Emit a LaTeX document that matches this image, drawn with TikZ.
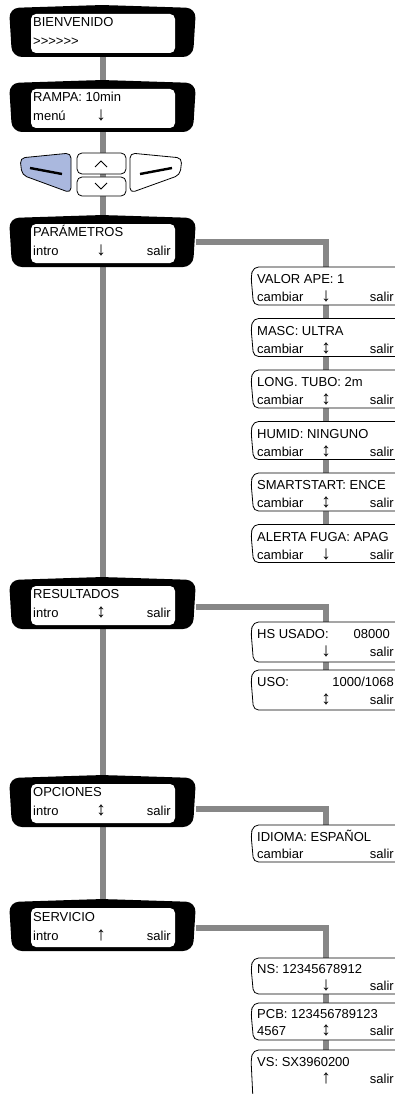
\documentclass[tikz,border=0pt]{standalone}
\usepackage{fontspec}
\setmainfont{Liberation Sans}
\usetikzlibrary{calc}
\pgfdeclarelayer{bg}
\pgfsetlayers{bg,main}
\definecolor{linegray}{RGB}{135,135,135}
\definecolor{btnblue}{RGB}{170,184,222}
\newcommand\bzbox[2]{%
  \node[bzarea] (#1) at (102.5,#2+26) {};
  \fill[black, rounded corners=10pt] (9,#2+3) -- (102,#2) -- (196,#2+3) -- (193,#2+52) -- (12,#2+52) -- cycle;
  \fill[white, rounded corners=5pt] (31,#2+9) rectangle (175,#2+48);
}
\newcommand\subbx[3]{%
  \node[subarea, minimum height=#3pt] (#1) at (326,#2+#3/2) {};
  \draw[line width=0.8pt, fill=white, rounded corners=5pt] (400,#2) -- (253.5,#2) -- (251,#2+9) -- (253.5,#2+#3) -- (400,#2+#3);
}
\newcommand\subtxt[6]{%
  \node[lt] (#1l1) at (257,#2+13) {#3};
  \node[lt] (#1l2) at (257,#2+31) {#4};
  \node[arrtxt] (#1ar) at (326,#2+31) {#5};
  \node[rt] (#1r2) at (394,#2+31) {#6};
}
\begin{document}
\begin{tikzpicture}[x=1pt,y=-1pt,
  conn/.style={draw=linegray,line width=6pt},
  bzarea/.style={draw=none,inner sep=0pt,minimum width=187pt,minimum height=52pt},
  subarea/.style={draw=none,inner sep=0pt,minimum width=148pt},
  btn/.style={draw=black,line width=0.8pt,rounded corners=5pt},
  txt/.style={inner sep=0pt,font=\fontsize{13}{15}\selectfont,text height=9.5pt,text depth=2.5pt},
  lt/.style={txt,anchor=west},
  rt/.style={txt,anchor=east},
  arrtxt/.style={inner sep=0pt,font=\fontsize{19}{19}\selectfont,text height=9.5pt,text depth=2.5pt,anchor=center}]
\useasboundingbox (0,0) rectangle (395,1094);
\clip (0,0) rectangle (395,1094);

% main boxes
\bzbox{bien}{5}
\node[lt] (bienA) at (33,23) {BIENVENIDO};
\node[lt] (bienB) at (33,42) {>\kern0pt>\kern0pt>\kern0pt>\kern0pt>\kern0pt>};

\bzbox{ramp}{80}
\node[lt] (rampA) at (33,98) {RAMPA: 10min};
\node[lt] (rampB) at (33,117) {menú};
\node[arrtxt] (rampC) at (101,117) {↓};

\bzbox{par}{215}
\node[lt] (parA) at (33,233) {PARÁMETROS};
\node[lt] (parB) at (33,252) {intro};
\node[arrtxt] (parC) at (101,252) {↓};
\node[rt] (parD) at (171,252) {salir};

\bzbox{res}{577}
\node[lt] (resA) at (33,595) {RESULTADOS};
\node[lt] (resB) at (33,614) {intro};
\node[arrtxt] (resC) at (101,614) {↕};
\node[rt] (resD) at (171,614) {salir};

\bzbox{opc}{775}
\node[lt] (opcA) at (33,793) {OPCIONES};
\node[lt] (opcB) at (33,812) {intro};
\node[arrtxt] (opcC) at (101,812) {↕};
\node[rt] (opcD) at (171,812) {salir};

\bzbox{serv}{899}
\node[lt] (servA) at (33,918) {SERVICIO};
\node[lt] (servB) at (33,937) {intro};
\node[arrtxt] (servC) at (101,937) {↑};
\node[rt] (servD) at (171,937) {salir};

% buttons
\draw[btn,fill=btnblue] (20,158) -- (71,153) -- (71,193) -- (22,175) -- cycle;
\draw[line width=2.4pt] (30,168) -- (62,174);
\draw[btn,fill=white] (130,153) -- (182,158) -- (180,175) -- (130,193) -- cycle;
\draw[line width=2.4pt] (140,174) -- (172,168);
\node[btn,fill=white,minimum width=49pt,minimum height=21pt,inner sep=0pt] (up) at (101.5,163.5) {};
\node[btn,fill=white,minimum width=49pt,minimum height=19pt,inner sep=0pt] (down) at (101.5,186.5) {};
\draw[line width=1pt] (95,167) -- (101,161) -- (107,167);
\draw[line width=1pt] (95,183) -- (101,189) -- (107,183);

% parameter sub boxes
\subbx{ape}{267}{38}
\subtxt{ape}{267}{VALOR APE: 1}{cambiar}{↓}{salir}
\subbx{masc}{318.5}{38}
\subtxt{masc}{318.5}{MASC: ULTRA}{cambiar}{↕}{salir}
\subbx{tubo}{370}{38}
\subtxt{tubo}{370}{LONG. TUBO: 2m}{cambiar}{↕}{salir}
\subbx{hum}{421.5}{38}
\subtxt{hum}{421.5}{HUMID: NINGUNO}{cambiar}{↕}{salir}
\subbx{smart}{473}{38}
\subtxt{smart}{473}{SMARTSTART: ENCE}{cambiar}{↕}{salir}
\subbx{fuga}{524.5}{38}
\subtxt{fuga}{524.5}{ALERTA FUGA: APAG}{cambiar}{↓}{salir}

% results sub boxes
\subbx{hs}{622}{40}
\node[lt] (hsA) at (257,635) {HS USADO:};
\node[rt] (hsB) at (390,635) {08000};
\node[arrtxt] (hsC) at (326,653) {↓};
\node[rt] (hsD) at (394,653) {salir};
\subbx{uso}{670}{40}
\node[lt] (usoA) at (257,683) {USO:};
\node[rt] (usoB) at (394,683) {1000/1068};
\node[arrtxt] (usoC) at (326,701) {↕};
\node[rt] (usoD) at (394,701) {salir};

% options
\subbx{idi}{825}{37}
\node[lt] (idiA) at (257,838) {IDIOMA: ESPAÑOL};
\node[lt] (idiB) at (257,855) {cambiar};
\node[rt] (idiC) at (394,855) {salir};

% service
\subbx{ns}{958}{36}
\node[lt] (nsA) at (257,970) {NS: 12345678912};
\node[arrtxt] (nsB) at (326,987) {↓};
\node[rt] (nsC) at (394,987) {salir};
\subbx{pcb}{1003}{37}
\node[lt] (pcbA) at (257,1015) {PCB: 123456789123};
\node[lt] (pcbB) at (257,1032) {4567};
\node[arrtxt] (pcbC) at (326,1032) {↕};
\node[rt] (pcbD) at (394,1032) {salir};
\subbx{vs}{1050}{60}
\node[lt] (vsA) at (257,1063) {VS: SX3960200};
\node[arrtxt] (vsB) at (326,1080) {↑};
\node[rt] (vsC) at (394,1080) {salir};

\begin{pgfonlayer}{bg}
\draw[conn] (bien.south) -- (serv.north);
\draw[conn] ([yshift=-1pt]par.east) -| (ape.north);
\draw[conn] (ape.south) -- (fuga.north);
\draw[conn] ([yshift=-4pt]res.east) -| (hs.north);
\draw[conn] (hs.south) -- (uso.north);
\draw[conn] ([yshift=-8pt]opc.east) -| (idi.north);
\draw[conn] ([yshift=-3pt]serv.east) -| (ns.north);
\draw[conn] (ns.south) -- (vs.north);
\end{pgfonlayer}
\end{tikzpicture}
\end{document}
